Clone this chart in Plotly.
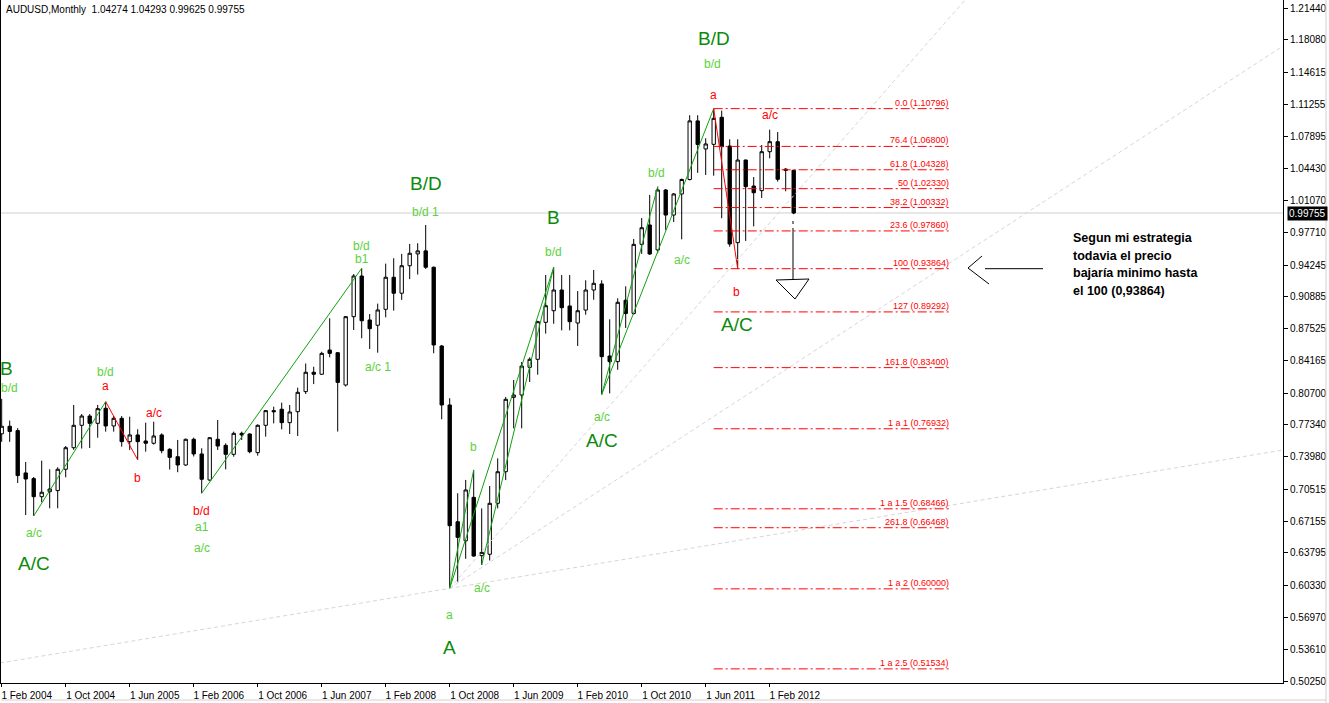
import pandas as pd
import plotly.graph_objects as go

# ---------------- data ----------------
months = [d.strftime("%Y-%m") for d in pd.date_range("2004-02-01", "2012-05-01", freq="MS")]

opens = [0.7640, 0.7720, 0.7674, 0.7226, 0.7166, 0.6975, 0.7028, 0.7039, 0.7265, 0.7493,
         0.7730, 0.7828, 0.7751, 0.7910, 0.7723, 0.7804, 0.7557, 0.7628, 0.7564, 0.7540,
         0.7628, 0.7476, 0.7398, 0.7310, 0.7582, 0.7427, 0.7151, 0.7582, 0.7518, 0.7423,
         0.7645, 0.7638, 0.7441, 0.7730, 0.7885, 0.7900, 0.7758, 0.7874, 0.8086, 0.8291,
         0.8270, 0.8526, 0.8498, 0.8156, 0.8879, 0.9309, 0.8844, 0.8788, 0.8957, 0.9296,
         0.9127, 0.9418, 0.9543, 0.9575, 0.9402, 0.8569, 0.7945, 0.6710, 0.6508, 0.6968,
         0.6351, 0.6366, 0.6905, 0.7239, 0.8026, 0.8050, 0.8343, 0.8428, 0.8819, 0.8942,
         0.9161, 0.8992, 0.8812, 0.8949, 0.9161, 0.9225, 0.8463, 0.8403, 0.9053, 0.8913,
         0.9644, 0.9849, 0.9585, 1.0219, 0.9954, 1.0177, 1.0330, 1.0950, 1.0653, 1.0702,
         1.0988, 1.0684, 0.9662, 1.0536, 1.0261, 1.0212, 1.0624, 1.0730, 1.0440, 1.04274]
highs = [0.8010, 0.7780, 0.7700, 0.7342, 0.7183, 0.7356, 0.7265, 0.7286, 0.7511, 0.7945,
         0.7849, 0.7849, 0.7945, 0.7980, 0.7828, 0.7828, 0.7821, 0.7688, 0.7758, 0.7768,
         0.7645, 0.7487, 0.7575, 0.7589, 0.7600, 0.7487, 0.7605, 0.7786, 0.7539, 0.7663,
         0.7663, 0.7645, 0.7740, 0.7892, 0.7927, 0.7970, 0.7945, 0.8128, 0.8384, 0.8349,
         0.8508, 0.8862, 0.8505, 0.8885, 0.9330, 0.9391, 0.8907, 0.9017, 0.9440, 0.9497,
         0.9543, 0.9649, 0.9656, 0.9849, 0.9409, 0.8580, 0.8016, 0.7011, 0.7152, 0.7258,
         0.6851, 0.7088, 0.7380, 0.8030, 0.8209, 0.8400, 0.8449, 0.8836, 0.9320, 0.9402,
         0.9320, 0.9320, 0.9150, 0.9264, 0.9373, 0.9264, 0.8851, 0.9073, 0.9200, 0.9701,
         0.9922, 1.0167, 1.0254, 1.0230, 1.0187, 1.0340, 1.1010, 1.1010, 1.0766, 1.10796,
         1.1058, 1.0755, 1.0755, 1.0540, 1.0356, 1.0695, 1.0857, 1.0832, 1.0450, 1.04293]
lows = [0.7555, 0.7555, 0.7120, 0.6781, 0.6771, 0.6916, 0.6852, 0.6852, 0.7180, 0.7470,
        0.7484, 0.7490, 0.7599, 0.7663, 0.7663, 0.7504, 0.7469, 0.7365, 0.7451, 0.7526,
        0.7434, 0.7262, 0.7234, 0.7300, 0.7400, 0.7011, 0.7143, 0.7469, 0.7264, 0.7398,
        0.7575, 0.7434, 0.7409, 0.7610, 0.7751, 0.7687, 0.7638, 0.7617, 0.8061, 0.8166,
        0.8263, 0.8449, 0.7664, 0.8140, 0.8738, 0.8650, 0.8537, 0.8498, 0.8872, 0.8943,
        0.9057, 0.9276, 0.9325, 0.9384, 0.8492, 0.7793, 0.6006, 0.6076, 0.6318, 0.6340,
        0.6252, 0.6300, 0.6851, 0.7150, 0.7698, 0.7698, 0.8188, 0.8265, 0.8700, 0.8804,
        0.8734, 0.8734, 0.8569, 0.8900, 0.9058, 0.8055, 0.8068, 0.8318, 0.8759, 0.8900,
        0.9543, 0.9532, 0.9550, 0.9797, 0.9880, 0.9697, 1.0320, 1.0400, 1.0378, 1.0370,
        0.9920, 0.9619, 0.93864, 0.9680, 0.9834, 1.0134, 1.0554, 1.0307, 1.0205, 0.99625]
closes = [0.7720, 0.7665, 0.7198, 0.7162, 0.6975, 0.7022, 0.7056, 0.7265, 0.7493, 0.7730,
          0.7828, 0.7751, 0.7906, 0.7723, 0.7804, 0.7557, 0.7628, 0.7557, 0.7540, 0.7617,
          0.7462, 0.7391, 0.7310, 0.7582, 0.7427, 0.7159, 0.7599, 0.7511, 0.7423, 0.7645,
          0.7628, 0.7451, 0.7730, 0.7885, 0.7874, 0.7758, 0.7871, 0.8079, 0.8291, 0.8270,
          0.8491, 0.8491, 0.8184, 0.8879, 0.9309, 0.8836, 0.8752, 0.8950, 0.9296, 0.9127,
          0.9418, 0.9550, 0.9575, 0.9402, 0.8580, 0.7945, 0.6668, 0.6545, 0.7046, 0.6347,
          0.6386, 0.6905, 0.7239, 0.8005, 0.8050, 0.8357, 0.8428, 0.8826, 0.8995, 0.9161,
          0.8974, 0.8826, 0.8942, 0.9161, 0.9232, 0.8456, 0.8403, 0.9031, 0.8913, 0.9644,
          0.9820, 0.9542, 1.0219, 0.9954, 1.0177, 1.0330, 1.0950, 1.0700, 1.0706, 1.0977,
          1.0677, 0.9648, 1.0536, 1.0254, 1.0190, 1.0624, 1.0730, 1.0332, 1.0427, 0.99755]

date_ticks = ["2004-02", "2004-10", "2005-06", "2006-02", "2006-10", "2007-06", "2008-02",
              "2008-10", "2009-06", "2010-02", "2010-10", "2011-06", "2012-02"]
price_ticks = [1.21440, 1.18080, 1.14615, 1.11255, 1.07895, 1.04430, 1.01070, 0.97710, 0.94245,
               0.90885, 0.87525, 0.84165, 0.80700, 0.77340, 0.73980, 0.70515, 0.67155, 0.63795,
               0.60330, 0.56970, 0.53610, 0.50250]

fib_names = ["0.0", "76.4", "61.8", "50", "38.2", "23.6", "100", "127", "161.8",
             "1 a 1", "1 a 1.5", "261.8", "1 a 2", "1 a 2.5"]
fib_ratios = [1.0, 0.764, 0.618, 0.5, 0.382, 0.236, 0.0, -0.27, -0.618,
              -1.0, -1.5, -1.618, -2.0, -2.5]

note_lines = ["Segun mi estrategia", "todavia el precio", "bajaría minimo hasta", "el 100 (0,93864)"]

# ---------------- helpers ----------------
idx = {m: i for i, m in enumerate(months)}
xs = list(range(len(months)))
PX_PER_BAR = 8.0
X0 = -0.0875            # bar index at the left plot edge
Y_TOP, Y_BOT = 1.22286, 0.50042
PLOT_H = 683.0


def px_x(px):  # pixel column -> bar index (hand drawn decorations only)
    return X0 + (px - 1) / PX_PER_BAR


def px_y(py):  # pixel row -> price (hand drawn decorations only)
    return Y_TOP - py * (Y_TOP - Y_BOT) / PLOT_H


def piv(m, kind):
    i = idx[m]
    return i, (highs[i] if kind == "H" else lows[i])


DG, LG, RD = "#0b8a0b", "#5ad23a", "#ff0000"
FONT = "Liberation Sans, Arial, sans-serif"

fig = go.Figure()

# faint fan lines
o_i, o_p = piv("2008-10", "L")
fan = [((px_x(0), px_y(663)), (px_x(1283), px_y(450))),
       ((o_i, o_p), (px_x(1283), px_y(46))),
       ((o_i, o_p), (px_x(965), px_y(0)))]
for (a, b) in fan:
    fig.add_trace(go.Scatter(x=[a[0], b[0]], y=[a[1], b[1]], mode="lines",
                             line=dict(color="#d6d6d6", width=1, dash="4px,3px"),
                             hoverinfo="skip", showlegend=False))

# current price line
fig.add_shape(type="line", xref="paper", x0=0, x1=1, yref="y", y0=closes[-1], y1=closes[-1],
              line=dict(color="#cfcfcf", width=1), layer="below")

# candles
fig.add_trace(go.Candlestick(
    x=xs, open=opens, high=highs, low=lows, close=closes,
    increasing=dict(line=dict(color="black", width=1), fillcolor="white"),
    decreasing=dict(line=dict(color="black", width=1), fillcolor="black"),
    whiskerwidth=0, showlegend=False, hoverinfo="skip"))

# wave lines
green_legs = [(("2004-06", "L"), ("2005-03", "H")),
              (("2006-03", "L"), ("2007-11", "H")),
              (("2008-10", "L"), ("2009-01", "H")),
              (("2008-10", "L"), ("2009-11", "H")),
              (("2009-02", "L"), ("2009-11", "H")),
              (("2010-05", "L"), ("2010-12", "H")),
              (("2010-05", "L"), ("2011-07", "H"))]
red_legs = [(("2005-03", "H"), ("2005-07", "L")),
            (("2011-07", "H"), ("2011-10", "L"))]
for legs, col in [(green_legs, "#11a011"), (red_legs, "#ff0000")]:
    for a, b in legs:
        ia, pa = piv(*a)
        ib, pb = piv(*b)
        fig.add_trace(go.Scatter(x=[ia, ib], y=[pa, pb], mode="lines",
                                 line=dict(color=col, width=1),
                                 hoverinfo="skip", showlegend=False))

# fibonacci levels
hi_i, hi_p = piv("2011-07", "H")
lo_i, lo_p = piv("2011-10", "L")
fib_end = px_x(951)
for name, r in zip(fib_names, fib_ratios):
    lvl = lo_p + (hi_p - lo_p) * r
    fig.add_shape(type="line", x0=hi_i, x1=fib_end, y0=lvl, y1=lvl, xref="x", yref="y",
                  line=dict(color="#ff0000", width=1, dash="9px,3px,2px,3px"))
    fig.add_annotation(x=fib_end, y=lvl, text=f"{name} ({lvl:.5f})", showarrow=False,
                       xanchor="right", yanchor="bottom", yshift=-1,
                       font=dict(family=FONT, size=9, color="#ff0000"))

# wave labels: (text, month, pivot, pixel offset up, color, size, xshift)
labels = [
    ("B", "2004-02", "H", 30.8, DG, 19, 5), ("b/d", "2004-02", "H", 10.8, LG, 12, 8),
    ("b/d", "2005-03", "H", 29.7, LG, 12, 0), ("a", "2005-03", "H", 15.7, RD, 12, 0),
    ("a/c", "2005-09", "H", 9.0, RD, 12, 0), ("b", "2005-07", "L", -18.0, RD, 12, 0),
    ("a/c", "2004-06", "L", -17.0, LG, 12, 0), ("A/C", "2004-06", "L", -48.0, DG, 19, 0),
    ("b/d", "2006-03", "L", -17.7, RD, 12, 0), ("a1", "2006-03", "L", -33.7, LG, 12, 0),
    ("a/c", "2006-03", "L", -54.7, LG, 12, 0),
    ("b/d", "2007-11", "H", 22.3, LG, 12, 0), ("b1", "2007-11", "H", 9.3, LG, 12, 0),
    ("a/c 1", "2008-01", "L", -14.3, LG, 12, 0),
    ("B/D", "2008-07", "H", 41.0, DG, 19, 0), ("b/d 1", "2008-07", "H", 13.0, LG, 12, 0),
    ("b", "2009-01", "H", 23.0, LG, 12, 0),
    ("a", "2008-10", "L", -26.7, LG, 12, 0), ("A", "2008-10", "L", -59.7, DG, 19, 0),
    ("a/c", "2009-02", "L", -23.0, LG, 12, 0),
    ("B", "2009-11", "H", 49.3, DG, 19, 0), ("b/d", "2009-11", "H", 15.3, LG, 12, 0),
    ("a/c", "2010-05", "L", -22.4, LG, 12, 0), ("A/C", "2010-05", "L", -46.4, DG, 19, 0),
    ("b/d", "2010-12", "H", 13.7, LG, 12, -1),
    ("a/c", "2011-03", "L", -20.7, LG, 12, 0),
    ("B/D", "2011-07", "H", 70.6, DG, 19, 0), ("b/d", "2011-07", "H", 44.6, LG, 12, -1),
    ("a", "2011-07", "H", 13.6, RD, 12, 0),
    ("a/c", "2012-02", "H", 14.7, RD, 12, 0),
    ("b", "2011-10", "L", -23.3, RD, 12, -1), ("A/C", "2011-10", "L", -55.3, DG, 19, -1),
]
for text, m, kind, off, col, size, xsh in labels:
    i, p = piv(m, kind)
    fig.add_annotation(x=i, y=p, text=text, showarrow=False, xanchor="center", yanchor="middle",
                       yshift=off, xshift=xsh, font=dict(family=FONT, size=size, color=col))

# hand drawn arrows
fib100 = lo_p
fig.add_shape(type="line", x0=px_x(985), x1=px_x(1043), y0=fib100, y1=fib100,
              line=dict(color="black", width=1))
fig.add_shape(type="path", line=dict(color="black", width=1),
              path=f"M {px_x(982)},{px_y(256)} L {px_x(968)},{px_y(268)} L {px_x(989)},{px_y(284)}")
ax = px_x(793)
fig.add_shape(type="line", x0=ax, x1=ax, y0=px_y(221), y1=px_y(224), line=dict(color="black", width=1))
fig.add_shape(type="line", x0=ax, x1=ax, y0=px_y(228), y1=px_y(280), line=dict(color="black", width=1))
fig.add_shape(type="path", line=dict(color="black", width=1),
              path=(f"M {px_x(776)},{px_y(280)} L {px_x(809)},{px_y(279)} "
                    f"M {px_x(776)},{px_y(280)} L {px_x(795)},{px_y(299)} L {px_x(809)},{px_y(279)}"))

# note text, one line each (line pitch ~17.7 px)
for k, line in enumerate(note_lines):
    fig.add_annotation(x=px_x(1071), y=px_y(238 + 17.7 * k), text=line, showarrow=False,
                       xanchor="left", yanchor="middle", align="left",
                       font=dict(family=FONT, size=12.5, color="black", weight="bold"))

# header
fig.add_annotation(xref="paper", yref="paper", x=0, y=1, xshift=3, yshift=-2,
                   text=f"AUDUSD,Monthly  {opens[-1]:.5f} {highs[-1]:.5f} {lows[-1]:.5f} {closes[-1]:.5f}",
                   showarrow=False, xanchor="left", yanchor="top",
                   font=dict(family=FONT, size=10, color="black"))

# current price tag
fig.add_annotation(xref="paper", yref="y", x=1, y=closes[-1], text=f"{closes[-1]:.5f}",
                   showarrow=False, xanchor="left", yanchor="middle", xshift=4,
                   bgcolor="black", borderpad=1,
                   font=dict(family=FONT, size=10, color="white"))

# window borders
fig.add_shape(type="line", xref="paper", yref="paper", x0=(1326 - 1) / 1282, x1=(1326 - 1) / 1282,
              y0=-0.03, y1=1, line=dict(color="#d0d0d0", width=1))
fig.add_shape(type="line", xref="paper", yref="paper", x0=0, x1=(1326 - 1) / 1282,
              y0=(683 - 700) / 683, y1=(683 - 700) / 683, line=dict(color="#d0d0d0", width=1))

tick_idx = [idx[m] for m in date_ticks]
tick_txt = ["1 " + pd.Timestamp(m + "-01").strftime("%b %Y") for m in date_ticks]

fig.update_layout(
    width=1329, height=703, autosize=False,
    margin=dict(l=1, r=46, t=0, b=20, pad=0),
    paper_bgcolor="white", plot_bgcolor="white",
    boxgap=0.4, showlegend=False,
    xaxis=dict(range=[X0, X0 + 1282 / PX_PER_BAR], showgrid=False, zeroline=False,
               rangeslider=dict(visible=False),
               tickvals=tick_idx, ticktext=tick_txt, ticks="outside", ticklen=3,
               tickcolor="black", showline=True, linecolor="black", linewidth=1,
               ticklabelshift=25, ticklabelstandoff=0,
               tickfont=dict(family=FONT, size=10, color="black")),
    yaxis=dict(range=[Y_BOT, Y_TOP], side="right", showgrid=False, zeroline=False,
               tickvals=price_ticks, ticktext=[f"{v:.5f}" for v in price_ticks],
               ticks="outside", ticklen=4, tickcolor="black",
               showline=True, linecolor="black", linewidth=1, mirror=True,
               tickfont=dict(family=FONT, size=10, color="black")),
)

fig.write_html("out.html", config={"displayModeBar": False},
               post_script="document.body.style.margin='0';document.body.style.overflow='hidden';")
